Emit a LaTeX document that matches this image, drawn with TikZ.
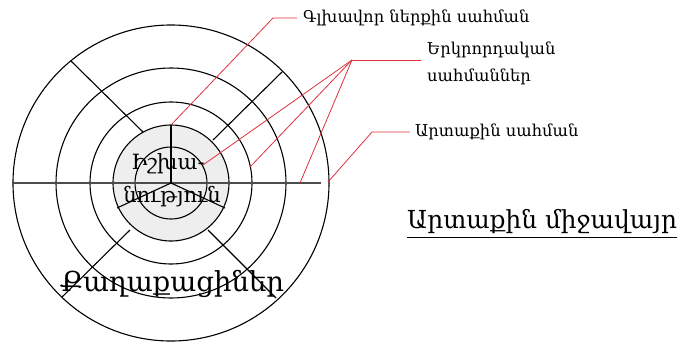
\documentclass[tikz,border=0pt]{standalone}
\usepackage{fontspec}
\setmainfont{DejaVu Serif}
\usetikzlibrary{calc}
\definecolor{leadred}{RGB}{222,50,62}
\tikzset{
  % ring and spoke lines
  ring/.style={black, line width=1.1pt},
  % red pointers to the labels
  leader/.style={leadred, line width=0.8pt},
  % small labels on the right
  lbl/.style={anchor=west, inner sep=0pt, align=left, font=\fontsize{16.3}{27}\selectfont},
  % big texts in the circles
  big/.style={inner sep=0pt, font=\fontsize{#1}{#1}\selectfont},
}

\begin{document}
\begin{tikzpicture}[x=1pt,y=-1pt]
  \useasboundingbox (0,0) rectangle (684,345);
  \coordinate (c) at (171,183);
  % shaded core
  \fill[gray!13] (c) circle (58);
  % the rings
  \foreach \r in {36,58,81,115,158}
    \draw[ring] (c) circle (\r);
  % spokes between core and outer ring
  \draw[ring] (71,61) -- (143,132);
  \draw[ring] (282,72) -- (213,140);
  \draw[ring] (130,230) -- (62,297);
  \draw[ring] (208,230) -- (276,298);
  \draw[gray!60!black, line width=1.7pt] (12,183) -- (321,183);
  % the three arms inside the core
  \coordinate (ytop) at (171,125);
  \coordinate (yleft) at (117,208);
  \coordinate (yright) at (225,208);
  \draw[ring] (c) -- (ytop);
  \draw[ring] (c) -- (yleft);
  \draw[ring] (c) -- (yright);

  \node[big=21] (core1) at (168,164) {Իշխա-};
  \node[big=21] (core2) at (172,197) {նություն};
  \node[big=27.5] (citizens) at (172,284) {Քաղաքացիներ};

  \node[big=24.8, anchor=west] (env) at (407,221) {Արտաքին միջավայր};
  \draw[black, line width=1pt] ([yshift=-4pt]env.south west) -- ([yshift=-4pt]env.south east);

  % labels with their pointers
  \node[lbl] (lab1) at (303,18) {Գլխավոր ներքին սահման};
  \node[lbl] (lab2) at (427,63) {Երկրորդական\\սահմաններ};
  \node[lbl] (lab3) at (415,132) {Արտաքին սահման};

  \coordinate (k1) at (273,18);
  \draw[leader] (ytop) -- (k1) -- ([xshift=-6pt]lab1.west);

  \coordinate (k2) at (352,60);
  \coordinate (in1) at (203,165);
  \coordinate (in2) at (250,167);
  \coordinate (in3) at (300,183);
  \draw[leader] (k2) -- ([xshift=-6pt]lab2.west |- k2);
  \foreach \p in {in1,in2,in3}
    \draw[leader] (k2) -- (\p);

  \coordinate (k3) at (372,132);
  \coordinate (rim) at (328,182);
  \draw[leader] (rim) -- (k3) -- ([xshift=-5pt]lab3.west);
\end{tikzpicture}
\end{document}
